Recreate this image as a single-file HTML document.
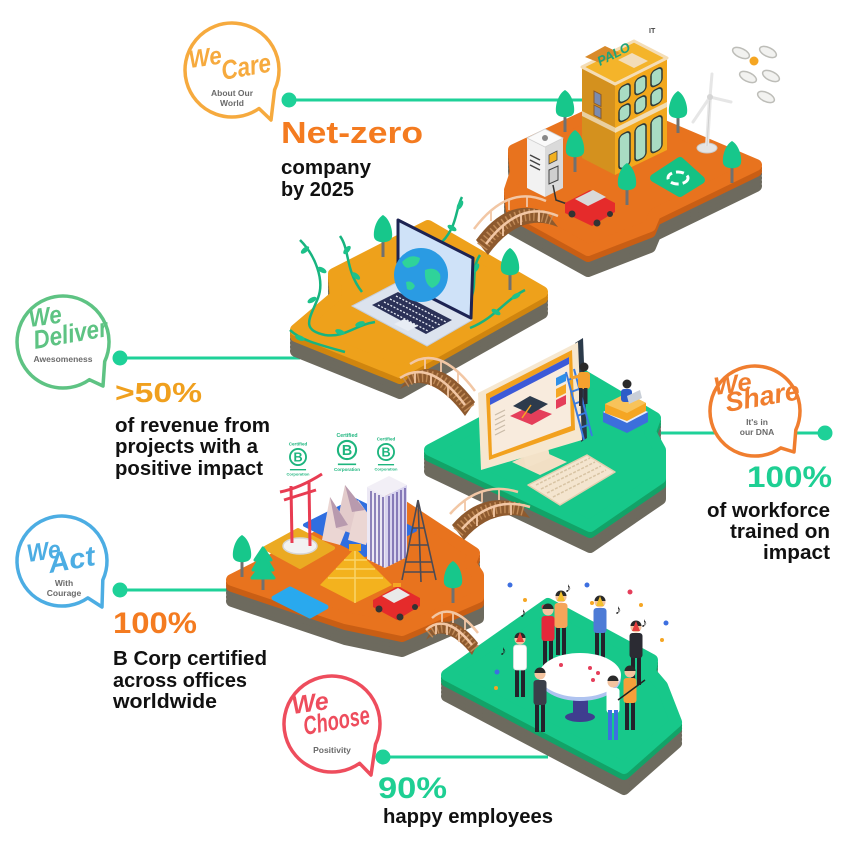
<!DOCTYPE html>
<html><head><meta charset="utf-8">
<style>
html,body{margin:0;padding:0;background:#fff;width:850px;height:850px;overflow:hidden}
svg{display:block}
text{font-family:"Liberation Sans",sans-serif;font-weight:bold}
.sc{font-family:"Liberation Serif",serif;font-style:italic;font-weight:bold}
.sm{font-size:8.5px;fill:#6a6a6a;text-anchor:middle}
</style></head><body>
<svg width="850" height="850" viewBox="0 0 850 850" xmlns="http://www.w3.org/2000/svg">
<defs>
 <path id="p1" d="M612,104 L756,165 L655,214 L650,226 L588,250 L512,208 L510,190 L516,172 L514,150 Z"/>
 <path id="p2" d="M428,226 L542,292 L400,372 L296,330 L336,296 L334,274 Z"/>
 <path id="p3" d="M577,372 L655,418 L650,432 L660,450 L660,478 L590,526 L430,450 Z"/>
 <path id="p4" d="M392,499 L474,553 L470,563 L478,575 L478,597 L402,630 L345,618 L232,580 Z"/>
 <path id="p5" d="M548,604 L652,660 L650,672 L662,686 L676,722 L624,768 L447,675 Z"/>
 <g id="tree">
  <rect x="-1.5" y="-16" width="3" height="16" fill="#707070"/>
  <path d="M0,-42 C7,-38 10,-26 9,-20 C8,-13 -8,-13 -9,-20 C-10,-26 -7,-38 0,-42Z" fill="#17C78B"/>
 </g>
 <g id="pine">
  <rect x="-1.5" y="-14" width="3" height="14" fill="#707070"/>
  <path d="M0,-42 L8,-30 L4,-30 L10,-20 L5,-20 L11,-12 L-11,-12 L-5,-20 L-10,-20 L-4,-30 L-8,-30 Z" fill="#17C78B" stroke="#17C78B" stroke-linejoin="round" stroke-width="3"/>
 </g>
 <g id="person">
  <rect x="-5" y="-30" width="4" height="30" fill="#23232B"/>
  <rect x="1" y="-30" width="4" height="30" fill="#23232B"/>
  <rect x="-6.5" y="-52" width="13" height="25" rx="3" fill="currentColor"/>
  <circle cx="0" cy="-58" r="5.5" fill="#F3C39F"/>
  <path d="M-5.5,-59 A5.5,5.5 0 0 1 5.5,-59 Z" fill="#2A2A2A"/>
 </g>
 <g id="bcorp">
  <circle r="7" fill="none" stroke="#1DB57E" stroke-width="1.6"/>
  <text x="0" y="4" text-anchor="middle" font-size="11" fill="#1DB57E">B</text>
  <line x1="-7" y1="11" x2="7" y2="11" stroke="#1DB57E" stroke-width="1.2"/>
  <text x="0" y="-10" text-anchor="middle" font-size="4" fill="#1DB57E">Certified</text>
  <text x="0" y="16" text-anchor="middle" font-size="3.5" fill="#1DB57E">Corporation</text>
 </g>
 <g id="cloud"><ellipse rx="9" ry="4.5" fill="#F2F2F0" stroke="#BDBDB8" stroke-width="1.5"/></g>
</defs>

<!-- connector lines -->
<g stroke="#1ED198" stroke-width="3">
 <line x1="289" y1="100" x2="585" y2="100"/>
 <line x1="120" y1="358" x2="300" y2="358"/>
 <line x1="655" y1="433" x2="825" y2="433"/>
 <line x1="120" y1="590" x2="235" y2="590"/>
 <line x1="383" y1="757" x2="548" y2="757"/>
</g>
<g fill="#1ED198">
 <circle cx="289" cy="100" r="7.5"/>
 <circle cx="120" cy="358" r="7.5"/>
 <circle cx="825" cy="433" r="7.5"/>
 <circle cx="120" cy="590" r="7.5"/>
 <circle cx="383" cy="757" r="7.5"/>
</g>

<!-- ================= PLATFORM 1 ================= -->
<g stroke-linejoin="round" stroke-width="12">
 <use href="#p1" y="21" fill="#6D6A5E" stroke="#6D6A5E"/>
 <use href="#p1" y="17" fill="#6D6A5E" stroke="#6D6A5E"/>
 <use href="#p1" y="13" fill="#6D6A5E" stroke="#6D6A5E"/>
 <use href="#p1" y="9" fill="#6D6A5E" stroke="#6D6A5E"/>
 <use href="#p1" y="6" fill="#C95E14" stroke="#C95E14"/>
 <use href="#p1" y="3" fill="#C95E14" stroke="#C95E14"/>
 <use href="#p1" fill="#E8731E" stroke="#E8731E"/>
</g>
<use href="#tree" x="565" y="132"/>
<use href="#tree" x="678" y="133"/>
<!-- building -->
<polygon points="582,67 615,84 615,175 582,158" fill="#D4911E"/>
<polygon points="615,84 667,58 667,150 615,175" fill="#F2A81C"/>
<g transform="matrix(1,-0.5,0,1,615,84)">
 <rect x="0" y="44" width="52" height="5" fill="#F1DDB5"/>
 <g fill="#A9DCC3" stroke="#2E3B3A" stroke-width="1.5">
  <rect x="4" y="6" width="11" height="16" rx="4"/><rect x="20" y="6" width="11" height="16" rx="4"/><rect x="36" y="6" width="11" height="16" rx="4"/>
  <rect x="4" y="26" width="11" height="15" rx="4"/><rect x="20" y="26" width="11" height="15" rx="4"/><rect x="36" y="26" width="11" height="15" rx="4"/>
  <rect x="4" y="54" width="11" height="34" rx="4"/><rect x="20" y="54" width="11" height="34" rx="4"/><rect x="36" y="54" width="11" height="34" rx="4"/>
 </g>
</g>
<g transform="matrix(1,0.5,0,1,582,67)">
 <rect x="0" y="44" width="33" height="5" fill="#E9CFA0"/>
 <rect x="12" y="18" width="7" height="12" fill="#7A8BB0" stroke="#8A5A2A" stroke-width="1"/>
 <rect x="12" y="32" width="7" height="10" fill="#7A8BB0" stroke="#8A5A2A" stroke-width="1"/>
</g>
<polygon points="582,67 634,41 667,58 615,84" fill="#F4B42A" stroke="#F4DDB6" stroke-width="3" stroke-linejoin="round"/>
<polygon points="585,57 605,46 620,53 600,63" fill="#D98A2A"/>
<polygon points="618,60 632,53 648,61 634,68" fill="#F3DDB8"/>
<text x="600" y="66" font-size="13" fill="#1FA37A" font-style="italic" transform="rotate(-27 600 66)">PALO</text>
<text x="649" y="33" font-size="7" fill="#444">IT</text>
<!-- charger -->
<polygon points="527,138 545,147 545,197 527,188" fill="#F2F2F2"/>
<polygon points="545,147 563,138 563,188 545,197" fill="#DADADA"/>
<polygon points="527,138 545,129 563,138 545,147" fill="#FAFAFA" stroke="#CFCFCF" stroke-width="0.8"/>
<circle cx="545" cy="138" r="3" fill="#888"/>
<g stroke="#444" stroke-width="1.5"><line x1="530" y1="155" x2="540" y2="160"/><line x1="530" y1="160" x2="540" y2="165"/><line x1="530" y1="165" x2="540" y2="170"/></g>
<polygon points="549,155 557,151 557,160 549,164" fill="#F2B020" stroke="#444" stroke-width="0.8"/>
<polygon points="549,170 558,166 558,180 549,184" fill="#CFCFCF" stroke="#444" stroke-width="1"/>
<path d="M553,185 L556,200 L570,205" fill="none" stroke="#333" stroke-width="1.5"/>
<!-- car -->
<polygon points="565,203 590,190 615,203 615,212 592,226 565,213" fill="#E52B2B"/>
<polygon points="575,199 593,190 606,197 588,206" fill="#D9D9D9"/>
<circle cx="572" cy="214" r="3.5" fill="#333"/><circle cx="597" cy="223" r="3.5" fill="#333"/><circle cx="610" cy="214" r="3" fill="#333"/>
<!-- recycle -->
<path d="M654,178 L680,161 L701,180 L680,193 Z" fill="#15C184" stroke="#15C184" stroke-width="8" stroke-linejoin="round"/>
<ellipse cx="678" cy="178" rx="10" ry="6" fill="none" stroke="#fff" stroke-width="3" stroke-dasharray="8 4"/>
<!-- turbine -->
<ellipse cx="707" cy="148" rx="10" ry="5" fill="#E4E4E4" stroke="#C9C9C9"/>
<line x1="707" y1="146" x2="710" y2="97" stroke="#E8E8E8" stroke-width="4"/>
<line x1="707" y1="146" x2="710" y2="97" stroke="#CFCFCF" stroke-width="1"/>
<g stroke="#E6E6E6" stroke-width="3" stroke-linecap="round">
 <line x1="710" y1="97" x2="712" y2="74"/><line x1="710" y1="97" x2="693" y2="122"/><line x1="710" y1="97" x2="731" y2="102"/>
</g>
<circle cx="710" cy="97" r="3" fill="#D5D5D5"/>
<use href="#cloud" transform="translate(741,53) rotate(25)"/>
<use href="#cloud" transform="translate(768,52) rotate(25)"/>
<use href="#cloud" transform="translate(748,77) rotate(25)"/>
<use href="#cloud" transform="translate(771,76) rotate(25)"/>
<use href="#cloud" transform="translate(766,97) rotate(25)"/>
<circle cx="754" cy="61" r="4.5" fill="#F5A623"/>
<use href="#tree" x="575" y="172"/>
<use href="#tree" x="732" y="183"/>
<use href="#tree" x="627" y="205"/>

<!-- ================= PLATFORM 2 ================= -->
<g stroke-linejoin="round" stroke-width="12">
 <use href="#p2" y="21" fill="#6D6A5E" stroke="#6D6A5E"/>
 <use href="#p2" y="17" fill="#6D6A5E" stroke="#6D6A5E"/>
 <use href="#p2" y="13" fill="#6D6A5E" stroke="#6D6A5E"/>
 <use href="#p2" y="9" fill="#6D6A5E" stroke="#6D6A5E"/>
 <use href="#p2" y="6" fill="#D0850E" stroke="#D0850E"/>
 <use href="#p2" y="3" fill="#D0850E" stroke="#D0850E"/>
 <use href="#p2" fill="#EEA11B" stroke="#EEA11B"/>
</g>
<!-- bridge 1 -->
<g>
 <path d="M476,240 Q508,196 546,212 L558,227 Q520,211 488,255 Z" fill="#8E5A2E"/>
 <path d="M482,247 Q514,203 552,219" fill="none" stroke="#C08A57" stroke-width="12" stroke-dasharray="1.5 3"/>
 <g stroke="#F2C7A5" stroke-width="1.8">
  <line x1="491" y1="210" x2="491" y2="221"/><line x1="509" y1="199" x2="509" y2="210"/><line x1="527" y1="196" x2="527" y2="207"/>
  <line x1="503" y1="225" x2="503" y2="236"/><line x1="521" y1="214" x2="521" y2="225"/><line x1="539" y1="211" x2="539" y2="222"/>
 </g>
 <path d="M474,229 Q508,184 546,201" fill="none" stroke="#F2C7A5" stroke-width="2.5"/>
 <path d="M486,244 Q520,199 558,216" fill="none" stroke="#F2C7A5" stroke-width="2.5"/>
</g>
<use href="#tree" x="383" y="257"/>
<use href="#tree" x="510" y="290"/>
<g fill="none" stroke="#17B47F" stroke-width="2.5">
 <path d="M300,240 C315,255 325,280 318,298 C310,318 300,330 325,335 C345,338 355,325 375,322"/>
 <path d="M340,236 C350,250 345,270 362,292"/>
 <path d="M462,197 C455,210 458,225 442,242"/>
 <path d="M480,255 C470,270 478,285 470,300"/>
 <path d="M525,290 C505,300 495,318 470,328"/>
 <path d="M290,330 C300,340 320,345 345,352"/>
</g>
<g fill="#1DC18A">
 <ellipse cx="305" cy="250" rx="5" ry="2.5" transform="rotate(-40 305 250)"/>
 <ellipse cx="322" cy="270" rx="5" ry="2.5" transform="rotate(30 322 270)"/>
 <ellipse cx="312" cy="300" rx="5" ry="2.5" transform="rotate(-30 312 300)"/>
 <ellipse cx="340" cy="332" rx="5" ry="2.5" transform="rotate(20 340 332)"/>
 <ellipse cx="360" cy="324" rx="5" ry="2.5" transform="rotate(-20 360 324)"/>
 <ellipse cx="347" cy="250" rx="5" ry="2.5" transform="rotate(-50 347 250)"/>
 <ellipse cx="356" cy="276" rx="5" ry="2.5" transform="rotate(40 356 276)"/>
 <ellipse cx="460" cy="205" rx="5" ry="2.5" transform="rotate(-60 460 205)"/>
 <ellipse cx="452" cy="228" rx="5" ry="2.5" transform="rotate(30 452 228)"/>
 <ellipse cx="516" cy="296" rx="5" ry="2.5" transform="rotate(-30 516 296)"/>
 <ellipse cx="496" cy="312" rx="5" ry="2.5" transform="rotate(30 496 312)"/>
 <ellipse cx="476" cy="268" rx="5" ry="2.5" transform="rotate(-60 476 268)"/>
 <ellipse cx="300" cy="338" rx="5" ry="2.5" transform="rotate(20 300 338)"/>
</g>
<!-- laptop -->
<polygon points="352,306 398,282 472,320 427,346" fill="#DCE3EE" stroke="#C5CFDE" stroke-width="1"/>
<polygon points="372,305 398,292 452,320 426,334" fill="#2B3157"/>
<g stroke="#E8ECF5" stroke-width="1.3" stroke-dasharray="2 1.6">
 <line x1="378" y1="305" x2="428" y2="331"/><line x1="384" y1="302" x2="434" y2="328"/><line x1="390" y1="299" x2="440" y2="325"/><line x1="396" y1="296" x2="446" y2="322"/>
</g>
<polygon points="394,324 404,319 418,326 408,331" fill="#E8EDF5"/>
<polygon points="398,220 473,258 471,318 398,281" fill="#CFE2F8" stroke="#1D2352" stroke-width="3" stroke-linejoin="round"/>
<circle cx="421" cy="275" r="27" fill="#2A9BE3"/>
<path d="M402,262 q8,-9 18,-4 q-1,8 -9,9 q-6,3 -9,-5z M425,270 q10,-4 15,4 q2,10 -8,14 q-8,-4 -7,-18z M406,282 q6,-2 9,4 q-3,6 -8,3z" fill="#2FD39A"/>

<!-- ================= PLATFORM 3 ================= -->
<g stroke-linejoin="round" stroke-width="12">
 <use href="#p3" y="21" fill="#6D6A5E" stroke="#6D6A5E"/>
 <use href="#p3" y="17" fill="#6D6A5E" stroke="#6D6A5E"/>
 <use href="#p3" y="13" fill="#6D6A5E" stroke="#6D6A5E"/>
 <use href="#p3" y="9" fill="#6D6A5E" stroke="#6D6A5E"/>
 <use href="#p3" y="6" fill="#12A368" stroke="#12A368"/>
 <use href="#p3" y="3" fill="#12A368" stroke="#12A368"/>
 <use href="#p3" fill="#17C88A" stroke="#17C88A"/>
</g>
<!-- bridge 2 -->
<g>
 <path d="M410,375 Q440,355 475,402 L465,416 Q430,369 400,389 Z" fill="#8E5A2E"/>
 <path d="M405,382 Q435,362 470,409" fill="none" stroke="#C08A57" stroke-width="12" stroke-dasharray="1.5 3"/>
 <g stroke="#F2C7A5" stroke-width="1.8">
  <line x1="425" y1="358" x2="425" y2="369"/><line x1="441" y1="361" x2="441" y2="372"/><line x1="458" y1="372" x2="458" y2="383"/>
  <line x1="415" y1="372" x2="415" y2="383"/><line x1="431" y1="375" x2="431" y2="386"/><line x1="448" y1="386" x2="448" y2="397"/>
 </g>
 <path d="M410,364 Q440,344 475,391" fill="none" stroke="#F2C7A5" stroke-width="2.5"/>
 <path d="M400,378 Q430,358 465,405" fill="none" stroke="#F2C7A5" stroke-width="2.5"/>
</g>
<!-- monitor -->
<polygon points="512,462 540,450 567,462 540,475" fill="#F1DFC4"/>
<polygon points="522,448 546,436 550,458 526,468" fill="#F3E2C8"/>
<polygon points="575,343 583,338 587,438 581,442" fill="#2B3A4A"/>
<polygon points="478,393 578,342 582,440 481,470" fill="#F6E7CF"/>
<polygon points="486,394 572,350 575,430 489,460" fill="#F2A11E"/>
<polygon points="490,398 569,357 571,426 492,455" fill="#F8EBDD"/>
<polygon points="490,398 569,357 569,364 490,405" fill="#3C5AD8"/>
<g stroke="#C9BBA8" stroke-width="1.2"><line x1="495" y1="415" x2="505" y2="410"/><line x1="495" y1="420" x2="505" y2="415"/><line x1="495" y1="425" x2="505" y2="420"/><line x1="495" y1="430" x2="505" y2="425"/><line x1="495" y1="435" x2="505" y2="430"/></g>
<polygon points="510,416 530,406 552,414 532,425" fill="#E53E5A"/>
<polygon points="513,406 530,396 548,404 531,414" fill="#2D3B4C"/>
<line x1="531" y1="405" x2="522" y2="418" stroke="#F5A623" stroke-width="1.5"/>
<polygon points="556,378 566,373 566,381 556,386" fill="#2E8FE8"/>
<polygon points="556,389 566,384 566,393 556,398" fill="#F5A623"/>
<polygon points="556,400 566,395 566,404 556,409" fill="#E53E5A"/>
<polygon points="528,485 587,455 615,472 560,505" fill="#F4E5CF" stroke="#E3CFB0" stroke-width="1.5" stroke-linejoin="round"/>
<g stroke="#D8C4A4" stroke-width="1.5" stroke-dasharray="3 1.5">
 <line x1="536" y1="485" x2="590" y2="458"/><line x1="541" y1="489" x2="595" y2="462"/><line x1="547" y1="493" x2="601" y2="466"/><line x1="553" y1="497" x2="606" y2="470"/>
</g>
<g stroke="#3A7BE0" stroke-width="2"><line x1="566" y1="372" x2="584" y2="440"/><line x1="574" y1="369" x2="592" y2="436"/>
 <line x1="568" y1="380" x2="576" y2="377"/><line x1="571" y1="392" x2="579" y2="389"/><line x1="574" y1="404" x2="582" y2="401"/><line x1="577" y1="416" x2="585" y2="413"/><line x1="580" y1="428" x2="588" y2="425"/></g>
<rect x="578" y="372" width="12" height="17" rx="3" fill="#F5A12E"/>
<rect x="579" y="388" width="3.5" height="18" fill="#2A2A35"/><rect x="584" y="388" width="3.5" height="16" fill="#2A2A35"/>
<circle cx="584" cy="367" r="4.5" fill="#2A2A2A"/>
<line x1="580" y1="376" x2="571" y2="378" stroke="#F5A12E" stroke-width="3"/>
<polygon points="603,412 625,401 648,412 648,422 627,433 603,422" fill="#3C6FDB"/>
<polygon points="603,412 625,401 648,412 627,423" fill="#E9EEF8"/>
<polygon points="605,404 627,393 646,403 646,411 627,421 605,413" fill="#F5A623"/>
<polygon points="605,404 627,393 646,403 627,413" fill="#F8C35A"/>
<rect x="621" y="389" width="11" height="13" rx="3" fill="#2D5CC8"/>
<circle cx="627" cy="384" r="4.5" fill="#2A2A2A"/>
<polygon points="627,396 640,390 642,398 629,404" fill="#C9CFD8"/>

<!-- ================= PLATFORM 4 ================= -->
<g stroke-linejoin="round" stroke-width="12">
 <use href="#p4" y="21" fill="#6D6A5E" stroke="#6D6A5E"/>
 <use href="#p4" y="17" fill="#6D6A5E" stroke="#6D6A5E"/>
 <use href="#p4" y="13" fill="#6D6A5E" stroke="#6D6A5E"/>
 <use href="#p4" y="9" fill="#6D6A5E" stroke="#6D6A5E"/>
 <use href="#p4" y="6" fill="#C95E14" stroke="#C95E14"/>
 <use href="#p4" y="3" fill="#C95E14" stroke="#C95E14"/>
 <use href="#p4" fill="#E8731E" stroke="#E8731E"/>
</g>
<!-- bridge 3 -->
<g>
 <path d="M452,525 Q480,492 518,503 L530,518 Q492,507 464,540 Z" fill="#8E5A2E"/>
 <path d="M458,532 Q486,499 524,510" fill="none" stroke="#C08A57" stroke-width="12" stroke-dasharray="1.5 3"/>
 <g stroke="#F2C7A5" stroke-width="1.8">
  <line x1="465" y1="500" x2="465" y2="511"/><line x1="482" y1="491" x2="482" y2="502"/><line x1="499" y1="489" x2="499" y2="500"/>
  <line x1="477" y1="515" x2="477" y2="526"/><line x1="494" y1="506" x2="494" y2="517"/><line x1="511" y1="504" x2="511" y2="515"/>
 </g>
 <path d="M450,514 Q480,480 518,492" fill="none" stroke="#F2C7A5" stroke-width="2.5"/>
 <path d="M462,529 Q492,495 530,507" fill="none" stroke="#F2C7A5" stroke-width="2.5"/>
</g>
<use href="#bcorp" transform="translate(298,457) scale(1.15)"/>
<use href="#bcorp" transform="translate(347,450) scale(1.3)"/>
<use href="#bcorp" transform="translate(386,452) scale(1.15)"/>
<polygon points="305,525 355,500 415,530 365,555" fill="#2F6EE0" stroke="#2F6EE0" stroke-width="4" stroke-linejoin="round"/>
<polygon points="265,548 298,530 333,548 300,567" fill="#EBAA22" stroke="#EBAA22" stroke-width="4" stroke-linejoin="round"/>
<ellipse cx="300" cy="546" rx="17" ry="8" fill="#F2F2F2" stroke="#D6D6D6" stroke-width="1.5"/>
<g stroke="#E83C52" stroke-width="3" fill="none">
 <line x1="291" y1="486" x2="292" y2="543"/><line x1="309" y1="482" x2="310" y2="546"/>
 <path d="M280,492 Q300,488 322,474"/><path d="M284,500 L316,490"/>
</g>
<polygon points="322,540 330,497 348,525 340,545" fill="#EBD6D3"/>
<polygon points="336,528 345,485 365,510 356,535" fill="#E3CBCB"/>
<polygon points="348,540 358,500 374,522 366,545" fill="#EBD6D3"/>
<polygon points="330,497 348,525 336,528" fill="#B89AAE"/>
<polygon points="345,485 365,510 352,512" fill="#B89AAE"/>
<polygon points="367,487 385,496 385,568 367,559" fill="#ECE8F4"/>
<polygon points="385,496 407,485 407,557 385,568" fill="#D8D3EE"/>
<polygon points="367,487 389,476 407,485 385,496" fill="#F2EFF6"/>
<g stroke="#5A4B9C" stroke-width="1.3">
 <line x1="371" y1="491" x2="371" y2="561"/><line x1="375" y1="493" x2="375" y2="563"/><line x1="379" y1="495" x2="379" y2="565"/><line x1="383" y1="497" x2="383" y2="567"/>
 <line x1="389" y1="496" x2="389" y2="566"/><line x1="393" y1="494" x2="393" y2="564"/><line x1="397" y1="492" x2="397" y2="562"/><line x1="401" y1="490" x2="401" y2="560"/><line x1="405" y1="488" x2="405" y2="558"/>
</g>
<g stroke="#4B4B55" stroke-width="1.6" fill="none">
 <path d="M418,500 L402,580 M418,500 L436,580 M418,500 L421,582"/>
 <path d="M410,545 L428,545 M406,562 L432,562 M413,528 L424,528"/>
 <path d="M404,572 L434,572"/>
</g>
<polygon points="320,585 355,548 392,585 355,603" fill="#F3B21E"/>
<g stroke="#F9D46A" stroke-width="1.5"><line x1="328" y1="578" x2="383" y2="578"/><line x1="336" y1="569" x2="375" y2="569"/><line x1="344" y1="560" x2="367" y2="560"/><line x1="355" y1="550" x2="355" y2="603"/></g>
<rect x="349" y="544" width="12" height="7" fill="#F0A619"/>
<polygon points="274,598 290,589 326,607 310,616" fill="#29A9EE" stroke="#29A9EE" stroke-width="5" stroke-linejoin="round"/>
<polygon points="373,600 398,586 420,598 420,606 397,620 373,607" fill="#E52B2B"/>
<polygon points="382,596 398,588 410,595 394,603" fill="#E9E9E9"/>
<rect x="393" y="583" width="8" height="4" fill="#F5A623"/>
<circle cx="379" cy="609" r="3.5" fill="#333"/><circle cx="400" cy="617" r="3.5" fill="#333"/><circle cx="415" cy="607" r="3" fill="#333"/>
<use href="#tree" x="242" y="577"/>
<use href="#pine" x="263" y="590"/>
<use href="#tree" x="453" y="603"/>

<!-- ================= PLATFORM 5 ================= -->
<g stroke-linejoin="round" stroke-width="12">
 <use href="#p5" y="21" fill="#6D6A5E" stroke="#6D6A5E"/>
 <use href="#p5" y="17" fill="#6D6A5E" stroke="#6D6A5E"/>
 <use href="#p5" y="13" fill="#6D6A5E" stroke="#6D6A5E"/>
 <use href="#p5" y="9" fill="#6D6A5E" stroke="#6D6A5E"/>
 <use href="#p5" y="6" fill="#12A368" stroke="#12A368"/>
 <use href="#p5" y="3" fill="#12A368" stroke="#12A368"/>
 <use href="#p5" fill="#17C88A" stroke="#17C88A"/>
</g>
<!-- bridge 4 -->
<g>
 <path d="M432,628 Q452,610 478,643 L472,655 Q446,622 426,640 Z" fill="#8E5A2E"/>
 <path d="M429,634 Q449,616 475,649" fill="none" stroke="#C08A57" stroke-width="10" stroke-dasharray="1.5 3"/>
 <g stroke="#F2C7A5" stroke-width="1.8">
  <line x1="442" y1="612" x2="442" y2="622"/><line x1="453" y1="613" x2="453" y2="623"/><line x1="465" y1="620" x2="465" y2="630"/>
  <line x1="436" y1="624" x2="436" y2="634"/><line x1="447" y1="625" x2="447" y2="635"/><line x1="459" y1="632" x2="459" y2="642"/>
 </g>
 <path d="M432,618 Q452,600 478,633" fill="none" stroke="#F2C7A5" stroke-width="2.5"/>
 <path d="M426,630 Q446,612 472,645" fill="none" stroke="#F2C7A5" stroke-width="2.5"/>
</g>
<g fill="#3D6FE0"><circle cx="510" cy="585" r="2.5"/><circle cx="587" cy="585" r="2.5"/><circle cx="666" cy="623" r="2.5"/><circle cx="497" cy="672" r="2.5"/></g>
<g fill="#E53E5A"><circle cx="544" cy="607" r="2.5"/><circle cx="630" cy="592" r="2.5"/></g>
<g fill="#F5A623"><circle cx="525" cy="600" r="2"/><circle cx="592" cy="603" r="2"/><circle cx="641" cy="605" r="2"/><circle cx="662" cy="640" r="2"/><circle cx="496" cy="688" r="2"/></g>
<g font-size="13" fill="#222"><text x="565" y="592">♪</text><text x="520" y="617">♪</text><text x="615" y="614">♪</text><text x="641" y="627">♪</text><text x="500" y="655">♪</text></g>
<use href="#person" x="548" y="668" style="color:#E4283A"/>
<use href="#person" x="561" y="655" style="color:#F5A55A"/>
<use href="#person" x="600" y="660" style="color:#4D7BD6"/>
<use href="#person" x="636" y="685" style="color:#2B2B33"/>
<polygon points="561,591 565,601 557,601" fill="#F2C12E"/>
<polygon points="600,596 604,606 596,606" fill="#F2C12E"/>
<polygon points="636,621 640,631 632,631" fill="#E53E3E"/>
<rect x="573" y="690" width="15" height="26" fill="#3F3D8F"/>
<ellipse cx="580" cy="717" rx="15" ry="5" fill="#3F3D8F"/>
<ellipse cx="580" cy="678" rx="41" ry="23" fill="#AFC3F0"/>
<ellipse cx="580" cy="675" rx="41" ry="22" fill="#FFFFFF"/>
<g fill="#E53E5A"><circle cx="561" cy="665" r="2"/><circle cx="590" cy="668" r="2"/><circle cx="598" cy="673" r="2"/><circle cx="593" cy="680" r="2"/></g>
<use href="#person" x="520" y="697" style="color:#FFFFFF"/>
<rect x="513.5" y="645" width="13" height="25" rx="3" fill="none" stroke="#DDD" stroke-width="0.8"/>
<polygon points="520,632 524,642 516,642" fill="#E53E3E"/>
<use href="#person" x="540" y="732" style="color:#3A3F4A"/>
<use href="#person" x="630" y="730" style="color:#F5A03A"/>
<use href="#person" x="613" y="740" style="color:#FFFFFF"/>
<rect x="608" y="710" width="4" height="30" fill="#3D6FE0"/><rect x="614" y="710" width="4" height="30" fill="#3D6FE0"/>
<line x1="618" y1="700" x2="645" y2="680" stroke="#222" stroke-width="1.5"/>

<!-- ================= BUBBLES ================= -->
<g fill="#fff" stroke-width="3.5" stroke-linejoin="round">
 <path d="M274.6,89.9 A47,47 0 1 0 259,108.5 L271,120 Z" stroke="#F6AA3E"/>
 <path d="M104.7,361.5 A46,46 0 1 0 89.4,379.7 L103,386 Z" stroke="#5EC383"/>
 <path d="M795.8,430 A45,45 0 1 0 780.8,447.9 L794,452 Z" stroke="#F07E2F"/>
 <path d="M102.8,580 A45,45 0 1 0 87.8,597.9 L102,607 Z" stroke="#4CADE3"/>
 <path d="M375.5,744.3 A48,48 0 1 0 359.6,763.3 L371,775 Z" stroke="#EE4D5D"/>
</g>
<g class="sc">
 <text x="190" y="68" font-size="25" fill="#F6AA3E" textLength="33" lengthAdjust="spacingAndGlyphs" transform="rotate(-8 190 68)">We</text>
 <text x="223" y="80" font-size="27" fill="#F6AA3E" textLength="50" lengthAdjust="spacingAndGlyphs" transform="rotate(-10 223 80)">Care</text>
 <text x="30" y="327" font-size="25" fill="#5EC383" textLength="33" lengthAdjust="spacingAndGlyphs" transform="rotate(-8 30 327)">We</text>
 <text x="35" y="349" font-size="26" fill="#5EC383" textLength="75" lengthAdjust="spacingAndGlyphs" transform="rotate(-10 35 349)">Deliver</text>
 <text x="715" y="395" font-size="25" fill="#F07E2F" textLength="38" lengthAdjust="spacingAndGlyphs" transform="rotate(-8 715 395)">We</text>
 <text x="727" y="412" font-size="27" fill="#F07E2F" textLength="75" lengthAdjust="spacingAndGlyphs" transform="rotate(-10 727 412)">Share</text>
 <text x="28" y="562" font-size="25" fill="#4CADE3" textLength="34" lengthAdjust="spacingAndGlyphs" transform="rotate(-8 28 562)">We</text>
 <text x="50" y="573" font-size="28" fill="#4CADE3" textLength="47" lengthAdjust="spacingAndGlyphs" transform="rotate(-10 50 573)">Act</text>
 <text x="293" y="714" font-size="25" fill="#EE4D5D" textLength="37" lengthAdjust="spacingAndGlyphs" transform="rotate(-8 293 714)">We</text>
 <text x="305" y="735" font-size="26" fill="#EE4D5D" textLength="67" lengthAdjust="spacingAndGlyphs" transform="rotate(-10 305 735)">Choose</text>
</g>
<g class="sm">
 <text x="232" y="96">About Our</text>
 <text x="232" y="106">World</text>
 <text x="63" y="362">Awesomeness</text>
 <text x="757" y="425">It's in</text>
 <text x="757" y="435">our DNA</text>
 <text x="64" y="586">With</text>
 <text x="64" y="596">Courage</text>
 <text x="332" y="753">Positivity</text>
</g>

<!-- ================= STATS TEXT ================= -->
<g fill="#111" font-size="20">
 <text x="281" y="143" font-size="31" fill="#F47B20" textLength="142" lengthAdjust="spacingAndGlyphs">Net-zero</text>
 <text x="281" y="174" textLength="90" lengthAdjust="spacingAndGlyphs">company</text>
 <text x="281" y="196" textLength="73" lengthAdjust="spacingAndGlyphs">by 2025</text>
 <text x="115" y="402" font-size="28" fill="#F0A01E" textLength="87" lengthAdjust="spacingAndGlyphs">&gt;50%</text>
 <text x="115" y="432" textLength="155" lengthAdjust="spacingAndGlyphs">of revenue from</text>
 <text x="115" y="453" textLength="143" lengthAdjust="spacingAndGlyphs">projects with a</text>
 <text x="115" y="475" textLength="148" lengthAdjust="spacingAndGlyphs">positive impact</text>
 <text x="747" y="487" font-size="30" fill="#1ECF93" textLength="85" lengthAdjust="spacingAndGlyphs">100%</text>
 <text x="707" y="517" textLength="123" lengthAdjust="spacingAndGlyphs">of workforce</text>
 <text x="730" y="538" textLength="100" lengthAdjust="spacingAndGlyphs">trained on</text>
 <text x="763" y="559" textLength="67" lengthAdjust="spacingAndGlyphs">impact</text>
 <text x="113" y="633" font-size="30" fill="#F47B20" textLength="84" lengthAdjust="spacingAndGlyphs">100%</text>
 <text x="113" y="665" textLength="154" lengthAdjust="spacingAndGlyphs">B Corp certified</text>
 <text x="113" y="687" textLength="134" lengthAdjust="spacingAndGlyphs">across offices</text>
 <text x="113" y="708" textLength="104" lengthAdjust="spacingAndGlyphs">worldwide</text>
 <text x="378" y="798" font-size="30" fill="#1ECF93" textLength="69" lengthAdjust="spacingAndGlyphs">90%</text>
 <text x="383" y="823" textLength="170" lengthAdjust="spacingAndGlyphs">happy employees</text>
</g>
</svg>
</body></html>
